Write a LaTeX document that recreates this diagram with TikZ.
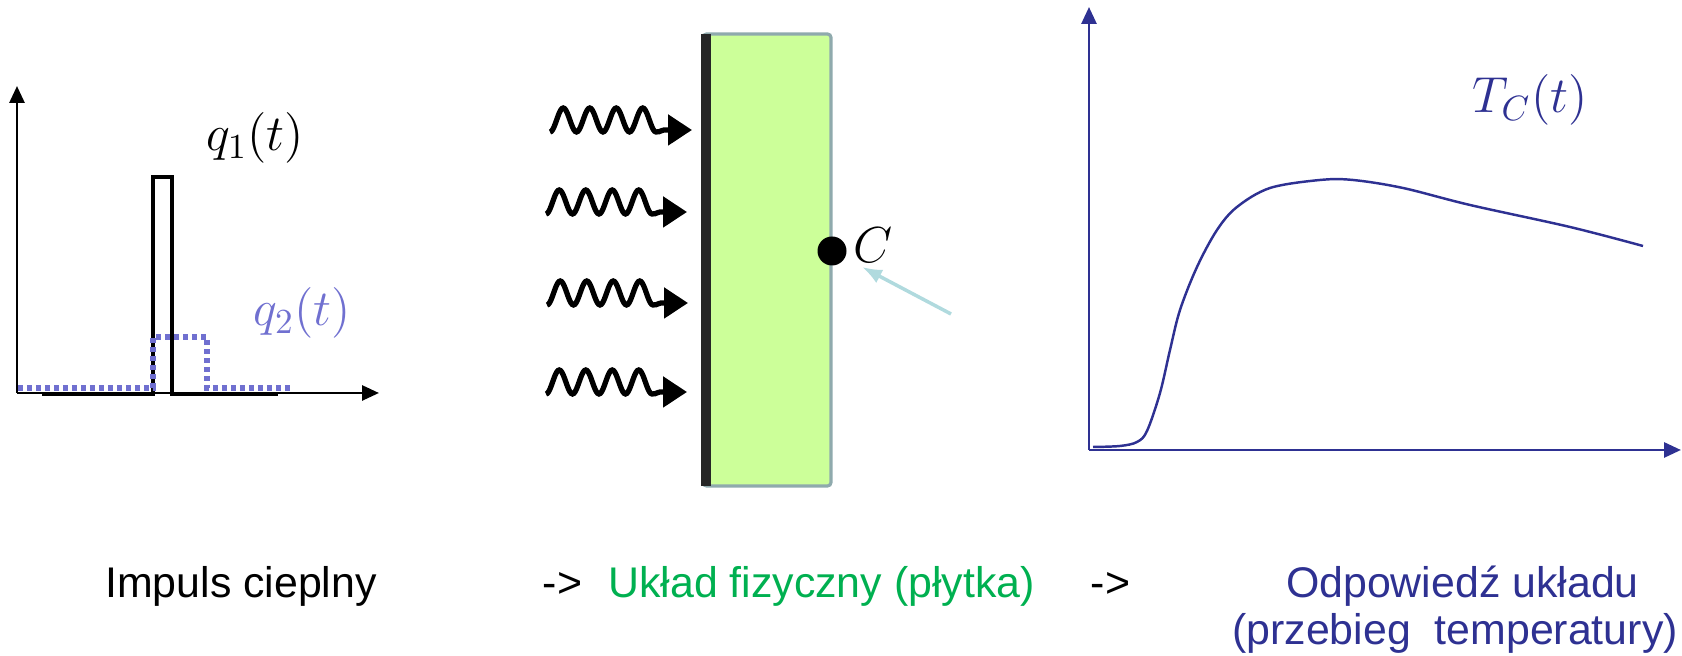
\documentclass[tikz,border=0pt]{standalone}
\usepackage{fontspec}
\setmainfont{Liberation Sans}
\usetikzlibrary{arrows.meta}
\definecolor{pulseblue}{RGB}{112,112,208}
\definecolor{respblue}{RGB}{46,49,146}
\definecolor{platefill}{RGB}{204,255,153}
\definecolor{plateedge}{RGB}{143,170,173}
\definecolor{probeblue}{RGB}{176,218,222}
\definecolor{sysgreen}{RGB}{0,176,80}

\begin{document}
\begin{tikzpicture}[
  axisline/.style={line width=0.8pt, -{Triangle[length=0.17cm,width=0.15cm]}},
  heatwave/.style={line width=1.5pt, -{Triangle[length=0.24cm,width=0.30cm]}},
  mathlbl/.style={font=\fontsize{14}{16}\selectfont},
  caption/.style={font=\fontsize{12.2}{14.6}\selectfont, anchor=base, inner sep=0pt}]
  \useasboundingbox (0,0) rectangle (16.82,6.56);
  % Heat pulses
  \draw[axisline] (0.17,2.63) -- (0.17,5.70);
  \draw[axisline] (0.17,2.63) -- (3.79,2.63);
  \draw[line width=1.2pt] (0.42,2.62) -- (1.53,2.62) -- (1.53,4.79) -- (1.72,4.79) -- (1.72,2.62) -- (2.78,2.62);
  \draw[pulseblue, line width=1.5pt, dash pattern=on 0.05cm off 0.04cm]
    (0.18,2.68) -- (1.53,2.68) -- (1.53,3.19) -- (2.07,3.19) -- (2.07,2.68) -- (2.93,2.68);
  \node[mathlbl] (qone) at (2.55,5.18) {$q_1(t)$};
  \node[mathlbl, pulseblue] (qtwo) at (3.02,3.43) {$q_2(t)$};
  % Plate with heated face
  \node[draw=plateedge, fill=platefill, line width=0.9pt, rounded corners=1pt, inner sep=0pt,
        minimum width=1.28cm, minimum height=4.52cm] (plate) at (7.67,3.96) {};
  \fill[black!85] ([yshift=0.02cm]plate.south west) rectangle ([xshift=0.1cm,yshift=-0.02cm]plate.north west);
  \foreach \xs/\yc/\xt in {5.50/5.36/6.92, 5.46/4.54/6.87, 5.47/3.63/6.88, 5.46/2.74/6.87} {
    \draw[heatwave] plot[domain=0:4, samples=81] ({\xs+0.265*\x},{\yc+0.12*sin(360*\x-90)})
      .. controls +(0.06,0) and +(-0.04,0) .. (\xs+1.14,\yc-0.10) -- (\xt,\yc-0.10);
  }
  % Point C
  \node[circle, fill=black, inner sep=0pt, minimum size=0.29cm] (dotc) at (8.32,4.05) {};
  \node[mathlbl] (labc) at (8.73,4.11) {$C$};
  \coordinate (probe) at (9.51,3.42);
  \draw[probeblue, line width=1pt, -{Latex[length=0.2cm,width=0.15cm]}] (probe) -- (8.62,3.89);
  % Response
  \draw[respblue, axisline] (10.89,2.06) -- (10.89,6.49);
  \draw[respblue, axisline] (10.89,2.06) -- (16.81,2.06);
  \draw[respblue, line width=0.7pt] plot[smooth, tension=0.55] coordinates {
    (10.93,2.09) (11.20,2.10) (11.37,2.14) (11.47,2.25) (11.60,2.63) (11.70,3.06)
    (11.80,3.46) (11.97,3.89) (12.17,4.26) (12.37,4.49) (12.70,4.68) (13.20,4.76)
    (13.53,4.76) (14.03,4.68) (14.70,4.51) (15.70,4.29) (16.43,4.10)};
  \node[mathlbl, respblue] (tc) at (15.30,5.56) {$T_C(t)$};
  % Captions
  \node[caption] (impuls) at (2.41,0.58) {Impuls cieplny};
  \node[caption] (arrone) at (5.625,0.58) {->};
  \node[caption, sysgreen] (uklad) at (8.215,0.58) {Układ fizyczny (płytka)};
  \node[caption] (arrtwo) at (11.105,0.58) {->};
  \node[caption, respblue] (odp) at (14.625,0.58) {Odpowiedź układu};
  \node[caption, respblue] (przebieg) at (14.55,0.11) {(przebieg\ \ temperatury)};
\end{tikzpicture}
\end{document}
